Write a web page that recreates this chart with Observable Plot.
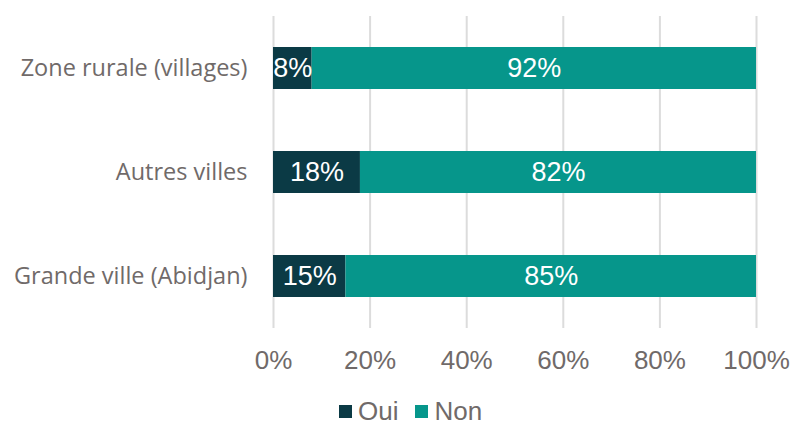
<!DOCTYPE html>
<html>
<head>
<meta charset="utf-8">
<script src="https://cdn.jsdelivr.net/npm/d3@7"></script>
<script src="https://cdn.jsdelivr.net/npm/@observablehq/plot@0.6"></script>
<style>
  html, body { margin: 0; padding: 0; background: #fff; }
  #wrap { position: relative; width: 794px; height: 426px; }
  #legend { position: absolute; left: 339px; top: 398px; height: 26px; display: flex; align-items: center;
    font-family: "Liberation Sans", Arial, sans-serif; font-size: 26px; line-height: 26px; color: #706a69; }
  .item { display: flex; align-items: center; margin-right: 17px; }
  .sw { width: 13px; height: 13px; margin-right: 6px; }
</style>
</head>
<body>
<div id="wrap">
  <div id="chart"></div>
  <div id="legend"></div>
</div>
<script>
const categories = ["Zone rurale (villages)", "Autres villes", "Grande ville (Abidjan)"];
const series = ["Oui", "Non"];
const oui = [8, 18, 15];
const non = [92, 82, 85];
const xTicks = [0, 20, 40, 60, 80, 100];
const colors = ["#0b3a45", "#06968b"];

const rows = [];
categories.forEach((c, i) => rows.push({cat: c, serie: "Oui", value: oui[i]}));
categories.forEach((c, i) => rows.push({cat: c, serie: "Non", value: non[i]}));

const textColor = "#706a69";

const chart = Plot.plot({
  width: 794,
  height: 390,
  marginTop: 16,
  marginBottom: 62,
  marginLeft: 273,
  marginRight: 38,
  style: {fontFamily: "'Liberation Sans', Arial, sans-serif", background: "#fff", overflow: "visible"},
  x: {domain: [0, 100]},
  y: {domain: categories, paddingInner: 0.6, paddingOuter: 0.3},
  color: {domain: series, range: colors},
  marks: [
    Plot.gridX(xTicks, {stroke: "#dcdcdc", strokeOpacity: 1, strokeWidth: 2}),
    Plot.axisX({ticks: xTicks, tickFormat: d => d + "%", tickSize: 0, tickPadding: 22, fontSize: 26, fill: textColor, label: null}),
    Plot.axisY({tickSize: 0, tickPadding: 26, fontSize: 23.5, fontFamily: "'Open Sans', sans-serif", fill: textColor, label: null}),
    Plot.barX(rows, Plot.stackX({x: "value", y: "cat", z: "serie", fill: "serie"})),
    Plot.text(rows, Plot.stackX({x: "value", y: "cat", z: "serie", text: d => d.value + "%", fill: "white", fontSize: 27}))
  ]
});
document.getElementById("chart").appendChild(chart);

const legend = document.getElementById("legend");
series.forEach((s, i) => {
  const it = document.createElement("div");
  it.className = "item";
  const sw = document.createElement("div");
  sw.className = "sw";
  sw.style.background = colors[i];
  const t = document.createElement("span");
  t.textContent = s;
  it.appendChild(sw);
  it.appendChild(t);
  legend.appendChild(it);
});
</script>
</body>
</html>
